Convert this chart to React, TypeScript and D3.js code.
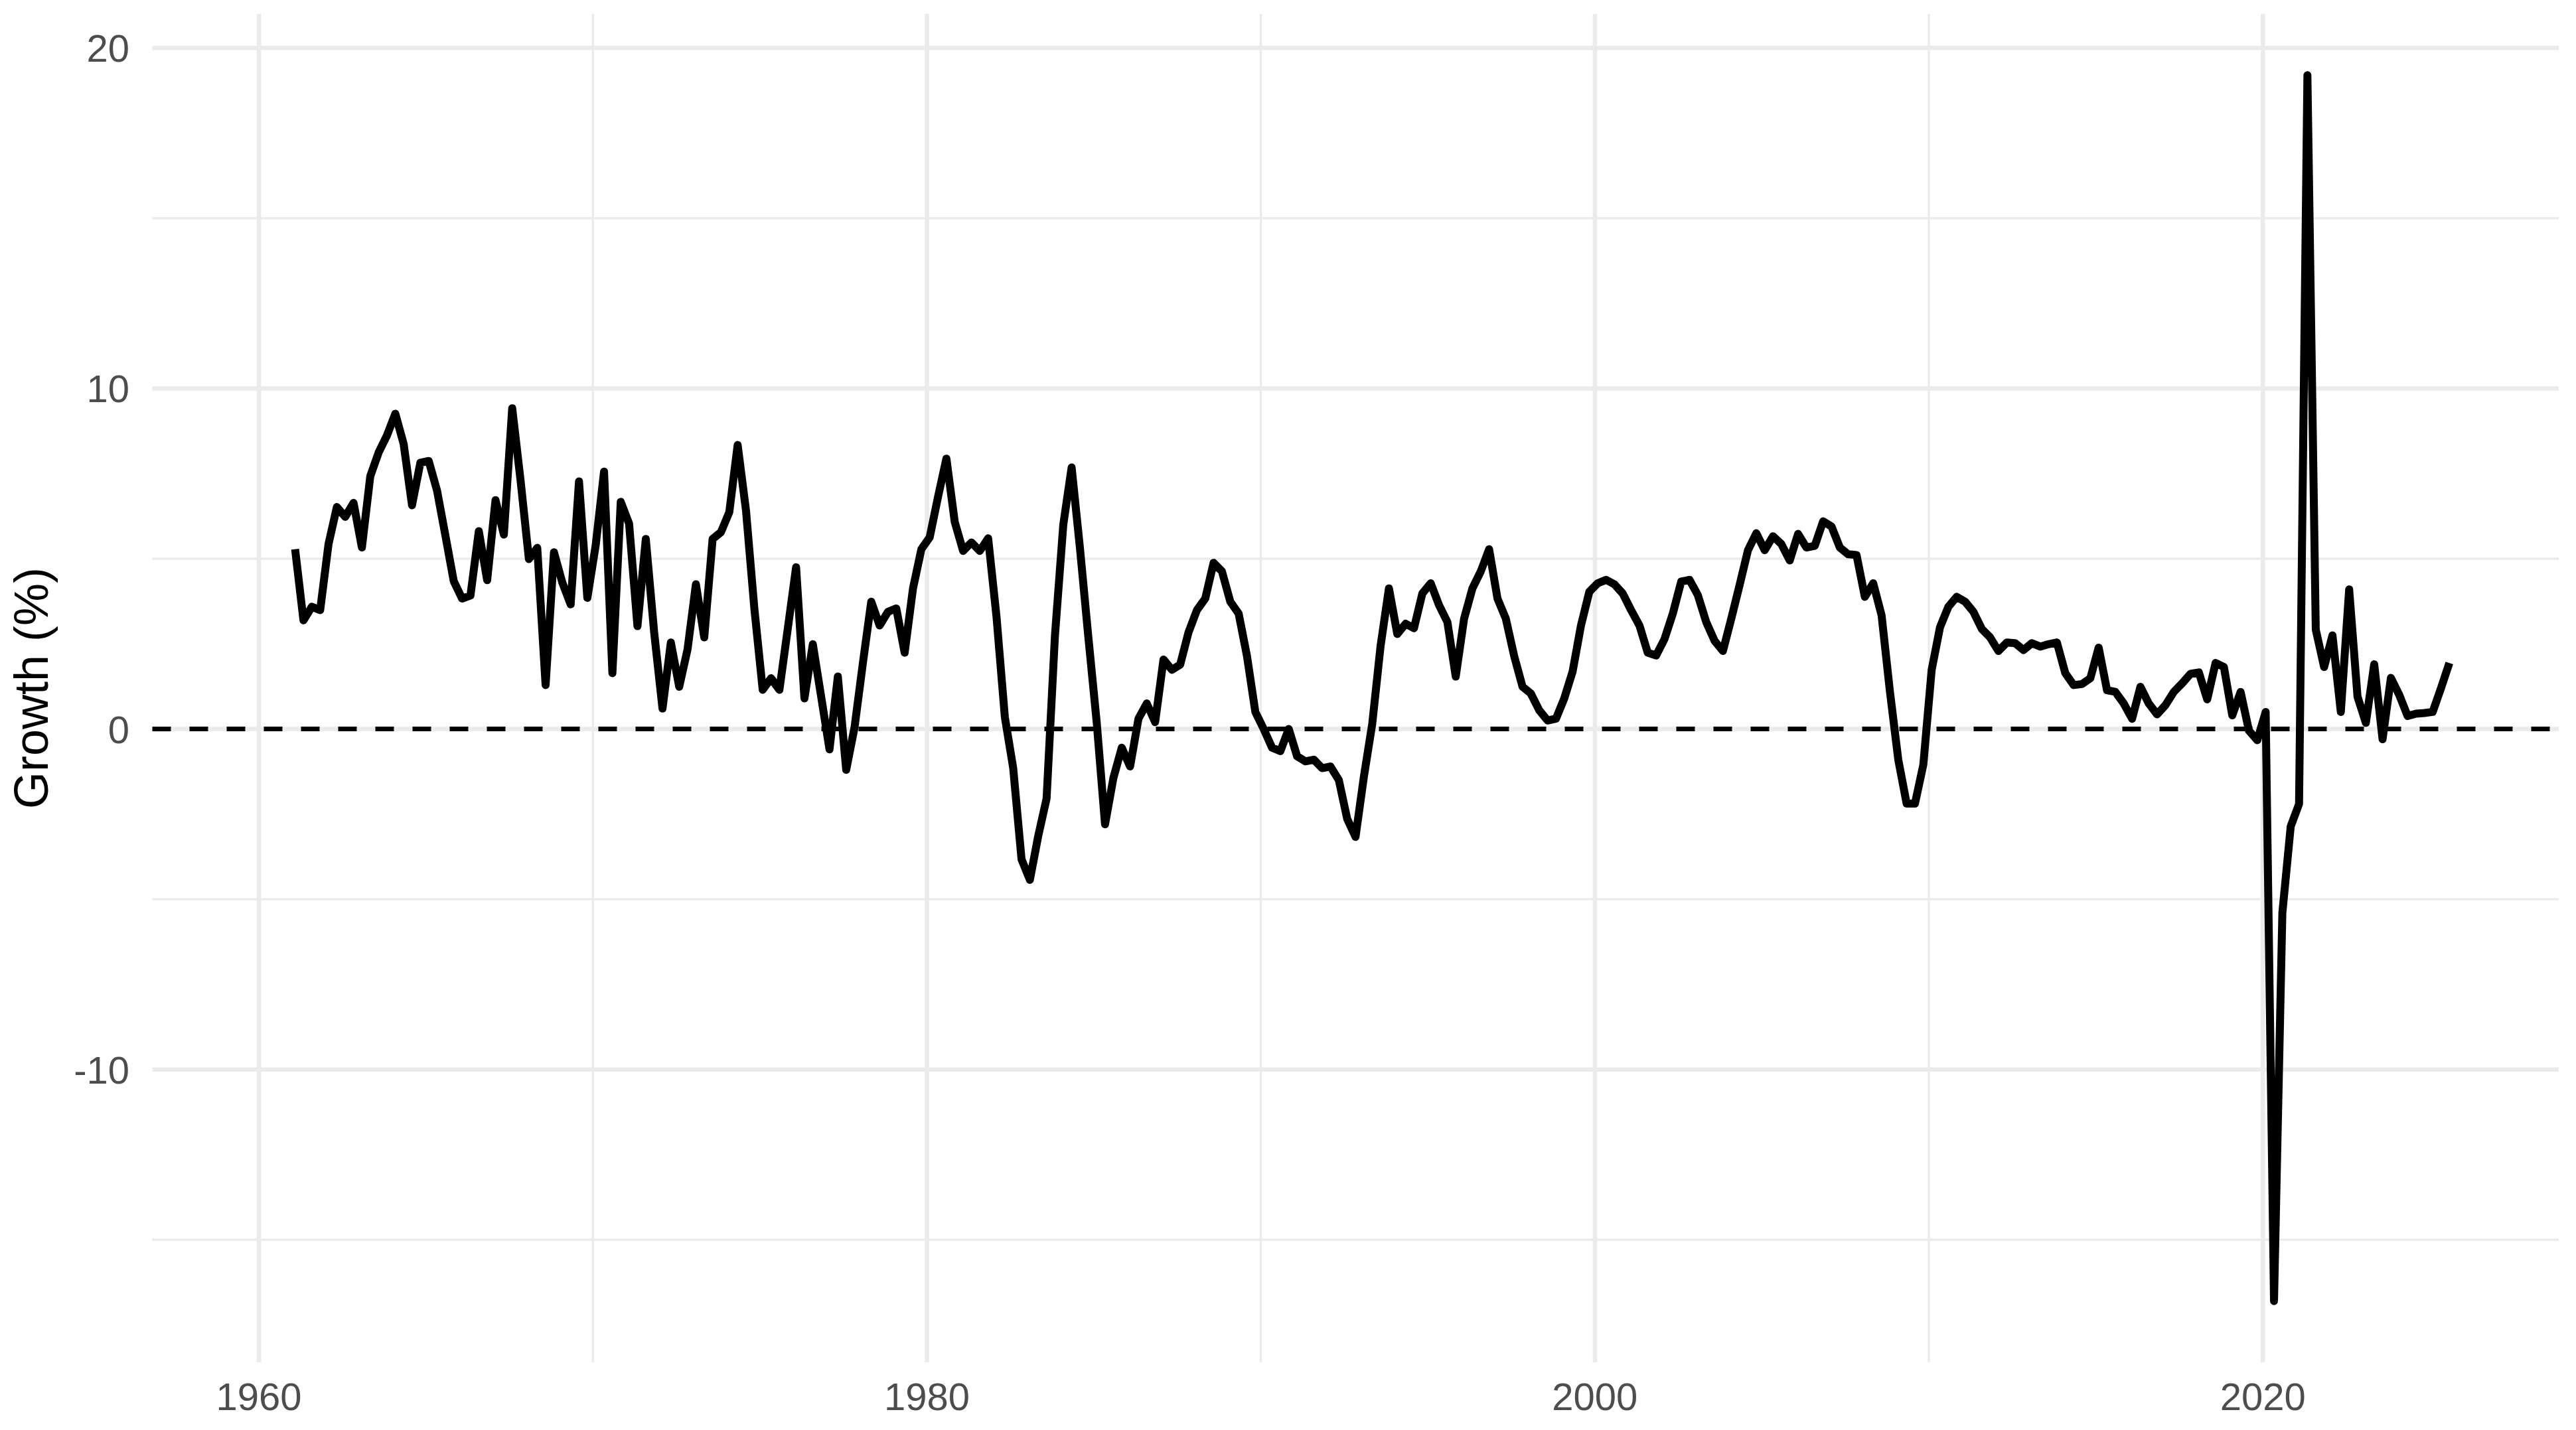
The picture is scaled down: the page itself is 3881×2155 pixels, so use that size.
import React, { useEffect } from "react";
import * as d3 from "d3";

// quarterly growth (%), first quarter is 1960 Q1 (no value for 1960)
const firstYear = 1960;
const growth: (number | null)[] = [
  null, null, null, null,
  5.28, 3.19, 3.59, 3.49, 5.43, 6.52, 6.23, 6.64, 5.33, 7.42,
  8.12, 8.62, 9.26, 8.37, 6.57, 7.82, 7.87, 7.0, 5.68, 4.34,
  3.83, 3.92, 5.81, 4.37, 6.72, 5.71, 9.42, 7.3, 4.99, 5.32,
  1.29, 5.19, 4.3, 3.66, 7.27, 3.85, 5.4, 7.56, 1.64, 6.67,
  6.03, 3.02, 5.58, 2.84, 0.6, 2.54, 1.24, 2.34, 4.25, 2.69,
  5.58, 5.78, 6.37, 8.34, 6.42, 3.54, 1.15, 1.49, 1.15, 2.94,
  4.75, 0.9, 2.49, 0.95, -0.6, 1.54, -1.2, 0.05, 1.94, 3.74,
  3.04, 3.44, 3.54, 2.24, 4.13, 5.28, 5.63, 6.82, 7.94, 6.08,
  5.23, 5.48, 5.23, 5.6, 3.3, 0.35, -1.15, -3.83, -4.43, -3.14,
  -2.04, 2.74, 6.0, 7.68, 5.3, 2.7, 0.2, -2.8, -1.44, -0.55,
  -1.1, 0.3, 0.75, 0.2, 2.04, 1.74, 1.89, 2.84, 3.49, 3.83,
  4.88, 4.63, 3.74, 3.39, 2.14, 0.5, 0.0, -0.55, -0.65, 0.0,
  -0.8, -0.95, -0.9, -1.15, -1.1, -1.5, -2.64, -3.17, -1.4, 0.15,
  2.44, 4.13, 2.79, 3.09, 2.96, 3.98, 4.28, 3.64, 3.14, 1.54,
  3.24, 4.13, 4.63, 5.28, 3.83, 3.24, 2.14, 1.24, 1.04, 0.55,
  0.25, 0.3, 0.9, 1.69, 3.04, 4.03, 4.28, 4.38, 4.25, 3.98,
  3.49, 3.04, 2.24, 2.16, 2.64, 3.39, 4.33, 4.38, 3.93, 3.14,
  2.59, 2.29, 3.24, 4.23, 5.25, 5.75, 5.25, 5.66, 5.43, 4.95,
  5.73, 5.33, 5.38, 6.1, 5.95, 5.33, 5.13, 5.11, 3.88, 4.28,
  3.34, 1.1, -0.9, -2.19, -2.19, -1.05, 1.74, 2.99, 3.59, 3.88,
  3.74, 3.44, 2.94, 2.69, 2.29, 2.54, 2.52, 2.32, 2.52, 2.42,
  2.49, 2.54, 1.64, 1.29, 1.32, 1.49, 2.39, 1.14, 1.09, 0.75,
  0.3, 1.24, 0.75, 0.43, 0.7, 1.09, 1.34, 1.62, 1.66, 0.87,
  1.94, 1.82, 0.4, 1.09, -0.05, -0.33, 0.5, -16.8, -5.4, -2.86,
  -2.2, 19.2, 2.92, 1.82, 2.75, 0.5, 4.1, 0.95, 0.18, 1.9,
  -0.3, 1.5, 1.0, 0.38, 0.45, 0.47, 0.5, 1.2, 1.94,
];

const xMajor = [1960, 1980, 2000, 2020];
const xMinor = [1970, 1990, 2010];
const yMajor = [-10, 0, 10, 20];
const yMinor = [-15, -5, 5, 15];
const yTitle = "Growth (%)";

const W = 3881;
const H = 2155;

const App = () => {
  useEffect(() => {
    document.body.style.margin = "0";
  }, []);

  const data = growth.map((v, i) => ({
    t: firstYear + i / 4 + 1 / 12,
    v,
  }));

  // ggplot-like 5% expansion
  const [t0, t1] = d3.extent(data, (d) => d.t) as [number, number];
  const [v0, v1] = d3.extent(data, (d) => d.v) as [number, number];
  const tPad = (t1 - t0) * 0.05;
  const vPad = (v1 - v0) * 0.05;

  const left = 229.5;
  const right = 3855;
  const top = 21;
  const bottom = 2053;

  const x = d3.scaleLinear().domain([t0 - tPad, t1 + tPad]).range([left, right]);
  const y = d3.scaleLinear().domain([v0 - vPad, v1 + vPad]).range([bottom, top]);

  const line = d3
    .line<{ t: number; v: number | null }>()
    .defined((d) => d.v !== null)
    .x((d) => x(d.t))
    .y((d) => y(d.v as number));

  const font = "'Liberation Sans', Arial, Helvetica, sans-serif";
  const grid = "#EBEBEB";

  return (
    <svg
      width={W}
      height={H}
      style={{ display: "block", position: "absolute", left: 0, top: 0, background: "#fff" }}
    >
      <rect width={W} height={H} fill="#fff" />
      {/* minor grid */}
      {yMinor.map((v) => (
        <line key={"ym" + v} x1={left} x2={right} y1={y(v)} y2={y(v)} stroke={grid} strokeWidth={3.3} />
      ))}
      {xMinor.map((t) => (
        <line key={"xm" + t} x1={x(t)} x2={x(t)} y1={top} y2={bottom} stroke={grid} strokeWidth={3.3} />
      ))}
      {/* major grid */}
      {yMajor.map((v) => (
        <line key={"yM" + v} x1={left} x2={right} y1={y(v)} y2={y(v)} stroke={grid} strokeWidth={6.5} />
      ))}
      {xMajor.map((t) => (
        <line key={"xM" + t} x1={x(t)} x2={x(t)} y1={top} y2={bottom} stroke={grid} strokeWidth={6.5} />
      ))}

      <path
        d={line(data) || ""}
        fill="none"
        stroke="#000"
        strokeWidth={12}
        strokeLinejoin="round"
      />

      <line
        x1={left}
        x2={right}
        y1={y(0)}
        y2={y(0)}
        stroke="#000"
        strokeWidth={7}
        strokeDasharray="28,28"
      />

      {/* y tick labels */}
      {yMajor.map((v) => (
        <text
          key={"yl" + v}
          x={195}
          y={y(v) + 21}
          textAnchor="end"
          fontFamily={font}
          fontSize={58}
          fill="#4D4D4D"
        >
          {v}
        </text>
      ))}
      {/* x tick labels */}
      {xMajor.map((t) => (
        <text
          key={"xl" + t}
          x={x(t)}
          y={2125}
          textAnchor="middle"
          fontFamily={font}
          fontSize={58}
          fill="#4D4D4D"
        >
          {t}
        </text>
      ))}

      <text
        transform={`translate(72,${(top + bottom) / 2}) rotate(-90)`}
        textAnchor="middle"
        fontFamily={font}
        fontSize={72}
        fill="#000"
      >
        {yTitle}
      </text>
    </svg>
  );
};

export default App;
